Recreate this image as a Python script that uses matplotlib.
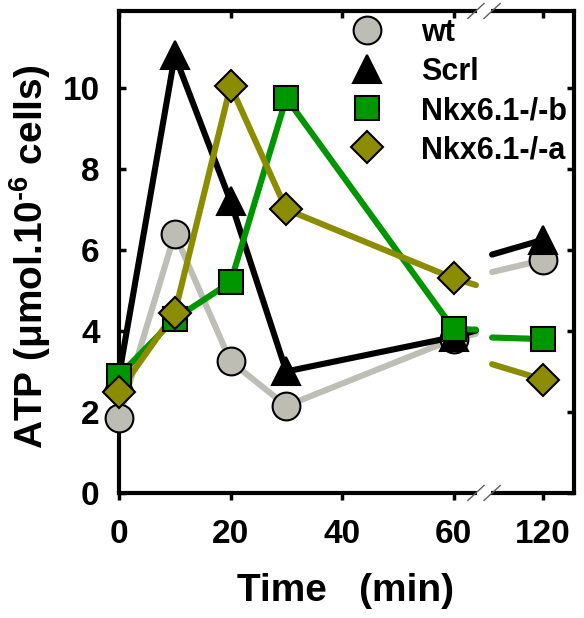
import matplotlib.pyplot as plt
import matplotlib.transforms as mtransforms
import numpy as np

plt.rcParams['font.family'] = ['Liberation Sans', 'DejaVu Sans']
plt.rcParams['font.weight'] = 'bold'
plt.rcParams['mathtext.fontset'] = 'custom'
plt.rcParams['mathtext.bf'] = 'Liberation Sans:bold'
plt.rcParams['mathtext.rm'] = 'Liberation Sans:bold'
plt.rcParams['mathtext.default'] = 'bf'

# data
time = [0, 10, 20, 30, 60, 120]
wt = [1.85, 6.4, 3.25, 2.15, 3.8, 5.75]
scrl = [2.9, 10.8, 7.2, 3.0, 3.85, 6.25]
nkx_b = [2.9, 4.3, 5.2, 9.75, 4.05, 3.8]
nkx_a = [2.5, 4.45, 10.05, 7.0, 5.3, 2.8]

labels = ['wt', 'Scrl', 'Nkx6.1-/-b', 'Nkx6.1-/-a']
series = [wt, scrl, nkx_b, nkx_a]
markers = ['o', '^', 's', 'D']
msizes = [20, 20, 17, 16]
faces = ['#bdbdb4', 'black', '#009600', '#8c8c00']
lcolors = ['#bebeb6', 'black', '#009600', '#8c8c00']

# broken x axis: times after the break are shifted left by 44 min
shift = 44
x120 = 120 - shift
brk_lo, brk_hi = 64.0, 66.9       # line ends either side of the break
gap_lo, gap_hi = 64.2, 66.7       # gap in the spines
xpos = [0, 10, 20, 30, 60, x120]

fig = plt.figure(figsize=(5.84, 6.18), dpi=100)
ax = fig.add_axes([0.2038, 0.2023, 0.7792, 0.7800])

for y, lab, m, ms, fc, lc in zip(series, labels, markers, msizes, faces, lcolors):
    ax.plot(xpos[:5], y[:5], color=lc, lw=4.4, solid_capstyle='round', zorder=2)
    # segment 60 -> 120 is drawn in real time, cut by the break
    y_lo = np.interp(brk_lo, [60, 120], [y[4], y[5]])
    y_hi = np.interp(brk_hi + shift, [60, 120], [y[4], y[5]])
    ax.plot([60, brk_lo], [y[4], y_lo], color=lc, lw=4.4, solid_capstyle='round', zorder=2)
    ax.plot([brk_hi, x120], [y_hi, y[5]], color=lc, lw=4.4, solid_capstyle='round', zorder=2)
    ax.plot(xpos, y, ls='none', marker=m, ms=ms, mfc=fc, mec='black', mew=1.5,
            zorder=3, clip_on=False)

ax.set_xlim(0, 81.6)
ax.set_ylim(0, 11.9)

ax.set_xticks([0, 20, 40, 60, x120])
ax.set_xticklabels(['0', '20', '40', '60', '120'])
ax.set_yticks([0, 2, 4, 6, 8, 10])

for s in ax.spines.values():
    s.set_linewidth(3)

ax.tick_params(axis='both', which='major', labelsize=24, width=2.5, length=5)
ax.tick_params(axis='x', direction='out', pad=14, top=True)
ax.tick_params(axis='y', direction='in', pad=14, right=True)
for t in ax.xaxis.get_major_ticks():
    t.tick2line.set_marker(3)  # top ticks pointing inward
for lbl in ax.get_xticklabels() + ax.get_yticklabels():
    lbl.set_fontweight('bold')

# axis break on top and bottom spines
trans = mtransforms.blended_transform_factory(ax.transData, ax.transAxes)
for yy in [0, 1]:
    ax.plot([gap_lo, gap_hi], [yy, yy], color='white', lw=6, transform=trans,
            clip_on=False, zorder=6, solid_capstyle='butt')
    for xb in [64.0, 66.9]:
        ax.plot([xb - 1.45, xb + 1.45], [yy - 0.0155, yy + 0.0155], color='#606060',
                lw=1.0, transform=trans, clip_on=False, zorder=7)

ax.set_xlabel('Time   (min)', fontsize=28, fontweight='bold')
ax.set_ylabel('ATP (\u03bcmol.10$^{\u20116}$ cells)', fontsize=28, fontweight='bold')
ax.xaxis.set_label_coords(0.498, -0.167)
ax.yaxis.set_label_coords(-0.146, 0.489)

handles = [plt.Line2D([], [], ls='none', marker=m, ms=ms, mfc=fc, mec='black', mew=1.5)
           for m, ms, fc in zip(markers, msizes, faces)]
leg = ax.legend(handles, labels, loc='upper left', bbox_to_anchor=(0.491, 0.986),
                frameon=False, prop={'size': 22, 'weight': 'bold'}, handlelength=1.6,
                handletextpad=0.96, labelspacing=0.3, borderpad=0, borderaxespad=0)

fig.savefig('out.png', dpi=100)
